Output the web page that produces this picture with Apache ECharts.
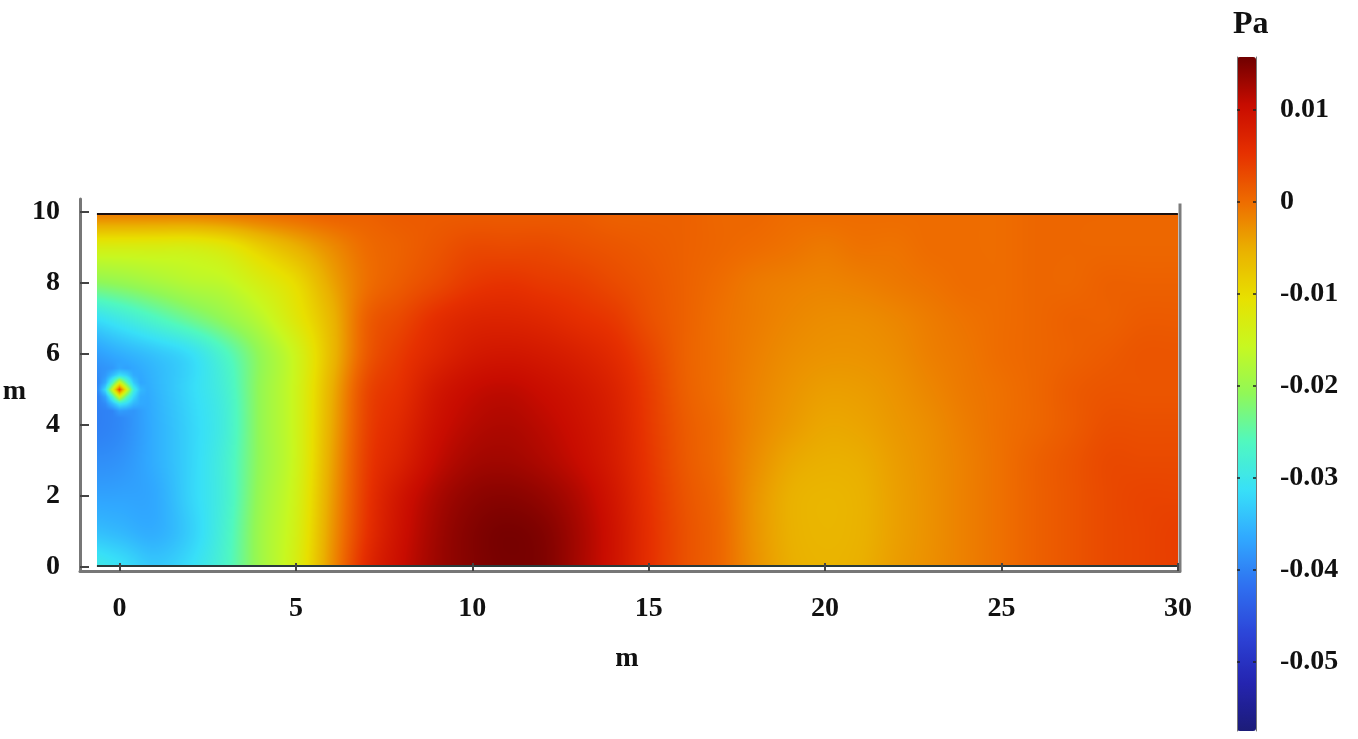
<!DOCTYPE html>
<html>
<head>
<meta charset="utf-8">
<style>html,body{margin:0;padding:0;background:#fff}#c{width:1358px;height:739px}</style>
<script src="https://cdn.jsdelivr.net/npm/echarts@6/dist/echarts.min.js"></script>
</head>
<body>
<div id="c"></div>
<script>
// Sample positions (m)
const xSamples = [-1,0,1,2,3,4,5,6,7,8,9,10,11,12,13,14,15,16,17,18,19,20,21,22,23,24,25,26,27,28,29,30];
const ySamples = [0,1,2,3,4,5,6,7,8,9,10];
// Pressure (Pa), one row per y sample
const pY0  = [-.029,-.031,-.0335,-.0315,-.027,-.0195,-.0135,-.003,.006,.0103,.013,.0145,.0152,.0148,.0125,.0095,.0055,.0025,.0005,-.0028,-.005,-.0056,-.0052,-.0038,-.0027,-.0015,-.0003,.001,.002,.003,.0035,.004];
const pY1  = [-.034,-.035,-.036,-.033,-.0275,-.0195,-.014,-.0035,.005,.0098,.0128,.0145,.0152,.0146,.0125,.0095,.0055,.0025,.0005,-.003,-.0052,-.0058,-.0054,-.004,-.0028,-.0015,-.0003,.001,.002,.003,.0035,.004];
const pY2  = [-.037,-.037,-.0365,-.0325,-.028,-.020,-.0145,-.004,.0045,.0092,.0122,.0138,.0142,.0135,.0118,.009,.0052,.0022,.0003,-.003,-.0052,-.0058,-.0054,-.004,-.0028,-.0015,-.0003,.001,.002,.003,.0035,.0035];
const pY3  = [-.039,-.0385,-.036,-.0325,-.028,-.0205,-.015,-.0045,.004,.0075,.0108,.0125,.0128,.012,.0105,.0082,.0048,.0018,0,-.0025,-.0045,-.0052,-.005,-.0038,-.0027,-.0015,-.0003,.001,.002,.003,.003,.003];
const pY4  = [-.0405,-.0395,-.036,-.0325,-.0285,-.0205,-.015,-.005,.0035,.0065,.0098,.0115,.012,.0112,.0098,.0078,.0045,.0016,0,-.002,-.0035,-.0045,-.0043,-.0034,-.0025,-.0013,-.0003,.0005,.0015,.0025,.0025,.0025];
const pY5  = [-.040,-.039,-.0355,-.032,-.028,-.0205,-.015,-.0055,.003,.0055,.0088,.0105,.011,.0102,.009,.0072,.0042,.0012,-.0003,-.0018,-.003,-.0038,-.0037,-.003,-.002,-.001,-.0003,.0005,.0015,.002,.002,.002];
const pY6  = [-.038,-.036,-.034,-.0315,-.0265,-.0205,-.015,-.0065,.0015,.0045,.0068,.0085,.009,.0085,.0075,.006,.0035,.001,-.0003,-.0015,-.0025,-.003,-.003,-.0025,-.0015,-.0008,0,.0005,.001,.0015,.002,.002];
const pY7  = [-.032,-.0295,-.0265,-.0235,-.0205,-.017,-.012,-.006,.001,.0032,.0055,.0068,.007,.0065,.0055,.0045,.0025,.001,-.0003,-.0012,-.002,-.0025,-.0025,-.002,-.0012,-.0005,0,.0005,.001,.001,.0015,.0015];
const pY8  = [-.0215,-.0205,-.019,-.0175,-.0165,-.0135,-.010,-.0045,-.0003,.0015,.003,.0045,.005,.0045,.004,.003,.002,.001,0,-.001,-.0015,-.0018,-.0015,-.001,-.0005,0,0,.0005,.0005,.001,.001,.001];
const pY9  = [-.0135,-.0135,-.0135,-.0135,-.012,-.0085,-.0055,-.0025,0,.001,.002,.003,.003,.003,.0025,.002,.0015,.001,.0005,0,-.0005,-.001,-.0005,-.0005,0,0,0,.0005,.0005,.0005,.0005,.0005];
const pY10 = [-.001,-.001,-.001,-.001,-.0005,0,.0005,.001,.001,.0015,.0015,.0015,.0015,.0015,.0015,.001,.001,.001,.0005,.0005,0,0,0,0,0,0,0,.0005,.0005,.0005,.0005,.0005];
const pressureRows = [pY0,pY1,pY2,pY3,pY4,pY5,pY6,pY7,pY8,pY9,pY10];

// Source spot near (0,5): rise above the surrounding field (Pa), top row first, 0.2 m apart
const spotXs = [-.8,-.6,-.4,-.2,0,.2,.4,.6,.8];
const spotYs = [5.8,5.6,5.4,5.2,5,4.8,4.6,4.4,4.2];
const spotR1 = [0,0,0,0,0,0,0,0,0];
const spotR2 = [0,0,0,0,.001,0,0,0,0];
const spotR3 = [0,0,.001,.004,.007,.005,.001,0,0];
const spotR4 = [0,0,.003,.012,.024,.013,.004,0,0];
const spotR5 = [0,.001,.008,.024,.042,.025,.009,.002,0];
const spotR6 = [0,0,.003,.012,.025,.014,.006,.001,0];
const spotR7 = [0,0,.001,.005,.009,.007,.003,.001,0];
const spotR8 = [0,0,0,0,.002,.001,0,0,0];
const spotR9 = [0,0,0,0,0,0,0,0,0];
const spotRows = [spotR1,spotR2,spotR3,spotR4,spotR5,spotR6,spotR7,spotR8,spotR9];

// Colour scale
const scaleMin = -0.0575, scaleMax = 0.0157;
const palette = ['#1c1c78','#2424b0','#2c44d8','#2f70f0','#30a8ff','#38e0f8','#50f8c0','#90f858','#c8f820','#e8e000','#eab000','#ee6c00','#e63000','#c80c00','#700000'];
// Ticks
const xTicks = [0,5,10,15,20,25,30];
const yTicks = [0,2,4,6,8,10];
const barTicks = [0.01,0,-0.01,-0.02,-0.03,-0.04,-0.05];
// Extent of the coloured field (m)
const fieldX = [-0.64,30], fieldY = [0.03,9.94];

const flat = [];
pressureRows.forEach((r,j)=>r.forEach((v,i)=>flat.push([xSamples[i],ySamples[j],v])));

const rgb = palette.map(c=>echarts.color.parse(c));
function colorOf(v){
  let t=(v-scaleMin)/(scaleMax-scaleMin)*(rgb.length-1);
  t=Math.max(0,Math.min(rgb.length-1.0001,t));
  const k=Math.floor(t),f=t-k,a=rgb[k],b=rgb[k+1];
  return [a[0]+(b[0]-a[0])*f,a[1]+(b[1]-a[1])*f,a[2]+(b[2]-a[2])*f];
}
function cr(p0,p1,p2,p3,t){return p1+.5*t*(p2-p0+t*(2*p0-5*p1+4*p2-p3+t*(3*p1-p0-3*p2+p3)));}
function smoothField(x,y){
  const fx=x-xSamples[0],fy=y-ySamples[0];
  const i=Math.min(xSamples.length-2,Math.max(0,Math.floor(fx))),j=Math.min(ySamples.length-2,Math.max(0,Math.floor(fy)));
  const tx=fx-i,ty=fy-j,col=[];
  const cl=(n,m)=>Math.max(0,Math.min(m-1,n));
  for(let q=-1;q<=2;q++){
    const r=pressureRows[cl(j+q,ySamples.length)];
    col.push(cr(r[cl(i-1,r.length)],r[cl(i,r.length)],r[cl(i+1,r.length)],r[cl(i+2,r.length)],tx));
  }
  return cr(col[0],col[1],col[2],col[3],ty);
}
function spotRise(x,y){
  const u=(x-spotXs[0])/.2,w=(spotYs[0]-y)/.2;
  if(u<0||w<0||u>=spotXs.length-1||w>=spotYs.length-1)return 0;
  const i=Math.floor(u),j=Math.floor(w),a=u-i,b=w-j;
  return (spotRows[j][i]*(1-a)+spotRows[j][i+1]*a)*(1-b)+(spotRows[j+1][i]*(1-a)+spotRows[j+1][i+1]*a)*b;
}
let fieldCanvas=null;
function buildCanvas(W,H){
  const c=document.createElement('canvas');c.width=W;c.height=H;
  const g=c.getContext('2d'),im=g.createImageData(W,H);
  for(let py=0;py<H;py++){
    const y=fieldY[1]-(py+.5)/H*(fieldY[1]-fieldY[0]);
    for(let px=0;px<W;px++){
      const x=fieldX[0]+(px+.5)/W*(fieldX[1]-fieldX[0]);
      const col=colorOf(smoothField(x,y)+spotRise(x,y)),o=(py*W+px)*4;
      im.data[o]=col[0];im.data[o+1]=col[1];im.data[o+2]=col[2];im.data[o+3]=255;
    }
  }
  g.putImageData(im,0,0);return c;
}
function renderField(params,api){
  if(params.dataIndex!==0)return null;
  const a=api.coord([fieldX[0],fieldY[1]]),b=api.coord([fieldX[1],fieldY[0]]);
  const W=Math.round(b[0]-a[0]),H=Math.round(b[1]-a[1]);
  if(!fieldCanvas)fieldCanvas=buildCanvas(W,H);
  const rt=api.coord([30.06,10.24]),rb=api.coord([30.06,-0.11]);
  return {type:'group',silent:true,children:[
    {type:'image',style:{image:fieldCanvas,x:a[0],y:a[1],width:W,height:H}},
    {type:'line',shape:{x1:a[0],y1:a[1],x2:b[0],y2:a[1]},style:{stroke:'#1a1010',lineWidth:2}},
    {type:'line',shape:{x1:a[0],y1:b[1],x2:b[0],y2:b[1]},style:{stroke:'#2a3a3a',lineWidth:2}},
    {type:'line',shape:{x1:rt[0],y1:rt[1],x2:rb[0],y2:rb[1]},style:{stroke:'#7c7c7c',lineWidth:3}}
  ]};
}
const serif='"Liberation Serif","Times New Roman",serif';
const lab={fontFamily:serif,fontWeight:'bold',fontSize:28,color:'#111'};
const chart=echarts.init(document.getElementById('c'),null,{renderer:'canvas'});
chart.setOption({
  animation:false,
  backgroundColor:'#fff',
  title:{text:'Pa',left:1228,top:4,textStyle:{fontFamily:serif,fontWeight:'bold',fontSize:32,color:'#111'}},
  grid:[
    {left:80,top:199,width:1100,height:372,outerBoundsMode:'none'},
    {left:1237,top:57,width:19,height:674,show:false,z:6,outerBoundsMode:'none'}
  ],
  xAxis:[
    {type:'value',gridIndex:0,min:-1.12,max:30.06,splitLine:{show:false},z:3,
     name:'m',nameLocation:'middle',nameGap:74,nameTextStyle:{...lab,padding:[0,6,0,0]},
     axisLine:{onZero:false,lineStyle:{color:'#777',width:3}},
     axisTick:{inside:true,length:8,customValues:xTicks,lineStyle:{color:'#444',width:2}},
     axisLabel:{customValues:xTicks,margin:24,showMinLabel:true,showMaxLabel:true,...lab}},
    {type:'value',gridIndex:1,min:0,max:1,show:false}
  ],
  yAxis:[
    {type:'value',gridIndex:0,min:-0.113,max:10.366,splitLine:{show:false},z:3,
     name:'m',nameLocation:'middle',nameRotate:0,nameGap:48,nameTextStyle:{...lab,verticalAlign:'top',lineHeight:14},
     axisLine:{onZero:false,lineStyle:{color:'#777',width:3}},
     axisTick:{inside:true,length:9,customValues:yTicks,lineStyle:{color:'#444',width:2}},
     axisLabel:{customValues:yTicks,margin:20,padding:[4,0,0,0],...lab}},
    {type:'value',gridIndex:1,position:'right',min:scaleMin,max:scaleMax,splitLine:{show:false},z:6,
     axisLine:{onZero:false,lineStyle:{color:'#777',width:1}},
     axisTick:{inside:true,length:3,customValues:barTicks,lineStyle:{color:'#222',width:1.5}},
     axisLabel:{customValues:barTicks,margin:24,formatter:v=>String(v),...lab}},
    {type:'value',gridIndex:1,position:'left',min:scaleMin,max:scaleMax,splitLine:{show:false},z:6,
     axisLine:{onZero:false,lineStyle:{color:'#777',width:1}},
     axisTick:{inside:true,length:3,customValues:barTicks,lineStyle:{color:'#222',width:1.5}},
     axisLabel:{show:false}}
  ],
  visualMap:{type:'continuous',seriesIndex:0,dimension:2,min:scaleMin,max:scaleMax,
    calculable:false,realtime:false,hoverLink:false,showLabel:false,padding:0,
    left:1237,top:57,itemWidth:19,itemHeight:674,inRange:{color:palette},
    textStyle:{color:'transparent',fontSize:1},z:4},
  series:[{type:'custom',xAxisIndex:0,yAxisIndex:0,data:flat,encode:{x:0,y:1},renderItem:renderField,z:2,clip:false}]
});
</script>
</body>
</html>
